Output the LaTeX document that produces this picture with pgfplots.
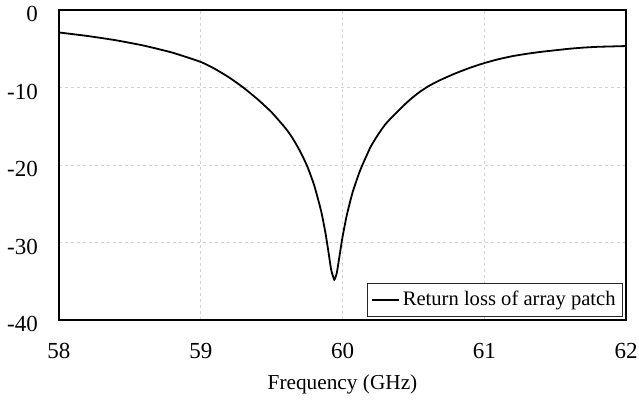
\documentclass[border=0pt]{standalone}
\usepackage{fontspec}
\setmainfont{Liberation Serif}
\usepackage{pgfplots}
\pgfplotsset{compat=1.18}
\begin{document}
\fontsize{20.6}{24}\selectfont
\begin{tikzpicture}[x=1pt,y=1pt]
\begin{axis}[
  name=ax,
  scale only axis,
  width=567pt, height=310pt,
  xmin=58, xmax=62, ymin=-40, ymax=0,
  xtick={58,59,60,61,62}, ytick={-40,-30,-20,-10,0},
  /pgf/number format/assume math mode=true,
  major tick length=0pt,
  axis line style={line width=2pt, black},
  grid=major,
  major grid style={gray!35, line width=0.8pt, dash pattern=on 3pt off 3pt},
  ticklabel style={font=\fontsize{23}{26}\selectfont},
  xticklabel style={inner sep=0pt, anchor=north, yshift=-23pt},
  yticklabel style={inner sep=0pt, anchor=east, xshift=-21pt, yshift=-4pt},
  xlabel={Frequency (GHz)},
  xlabel style={font=\fontsize{21.3}{25}\selectfont, at={(axis description cs:0.5,0)}, anchor=north, inner sep=0pt, yshift=-55pt},
  legend style={at={(axis description cs:1,0)}, anchor=south east, xshift=-3pt, yshift=3pt,
    draw=black!85, line width=0.8pt, inner xsep=4pt, inner ysep=5pt,
    nodes={inner sep=3pt, anchor=west}},
  legend image code/.code={\draw[#1, line width=1.8pt] (0pt,0pt) -- (27pt,0pt);},
  legend cell align=left,
]
\addplot[black, line width=1.8pt, smooth, tension=0.3] coordinates {
(58.00,-2.9) (58.20,-3.35) (58.40,-3.9) (58.60,-4.6) (58.80,-5.5) (59.00,-6.7)
(59.10,-7.6) (59.20,-8.7) (59.30,-10.0) (59.40,-11.5) (59.50,-13.2) (59.60,-15.3)
(59.65,-16.6) (59.70,-18.2) (59.75,-20.1) (59.80,-22.6) (59.85,-26.0) (59.88,-28.8)
(59.90,-31.1) (59.92,-33.5) (59.942,-34.8) (59.96,-33.9) (59.98,-31.6) (60.00,-29.3)
(60.03,-26.5) (60.07,-23.6) (60.12,-20.9) (60.15,-19.6) (60.20,-17.6) (60.25,-16.1)
(60.30,-14.8) (60.35,-13.8) (60.40,-12.9) (60.45,-12.0) (60.50,-11.2) (60.55,-10.5)
(60.60,-9.9) (60.65,-9.4) (60.70,-8.95) (60.80,-8.15) (60.90,-7.45) (61.00,-6.85)
(61.10,-6.35) (61.20,-5.95) (61.30,-5.65) (61.40,-5.4) (61.50,-5.2) (61.60,-5.0)
(61.70,-4.85) (61.80,-4.75) (61.90,-4.7) (62.00,-4.65)
};
\addlegendentry{Return loss of array patch}
\end{axis}
\path (ax.south west) ++(-59pt,-82pt) coordinate (bl);
\path (ax.north east) ++(13pt,10pt) coordinate (tr);
\path[use as bounding box] (bl) rectangle (tr);
\end{tikzpicture}
\end{document}
